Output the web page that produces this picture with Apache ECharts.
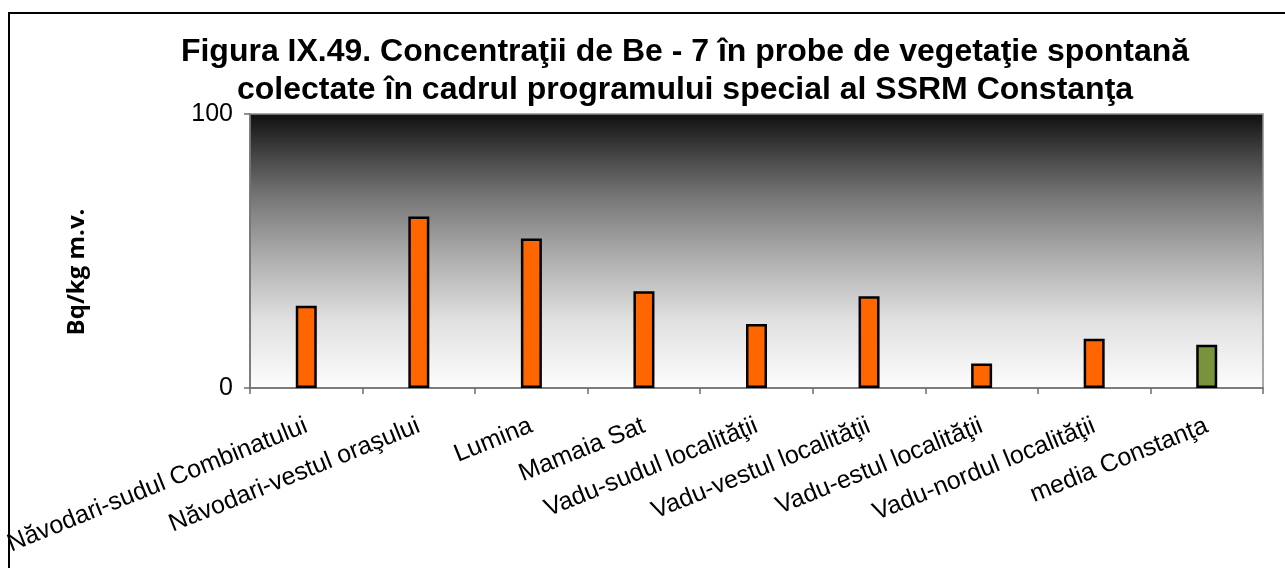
<!DOCTYPE html>
<html>
<head>
<meta charset="utf-8">
<script src="https://cdn.jsdelivr.net/npm/echarts@6/dist/echarts.min.js"></script>
<style>
  html, body { margin: 0; padding: 0; background: #ffffff; }
  #chart { width: 1285px; height: 568px; }
</style>
</head>
<body>
<div id="chart"></div>
<script>
// Sampling sites
const categories = [
  'Năvodari-sudul Combinatului',
  'Năvodari-vestul oraşului',
  'Lumina',
  'Mamaia Sat',
  'Vadu-sudul localităţii',
  'Vadu-vestul localităţii',
  'Vadu-estul localităţii',
  'Vadu-nordul localităţii',
  'media Constanţa'
];
// Be-7 concentration, Bq/kg m.v.
const values = [30, 62.6, 54.6, 35.3, 23.4, 33.5, 8.9, 18.0, 15.8];
// The last category is the county average and is drawn in green
const averageIndex = 8;
const yTicks = [0, 100];

const titleLines = [
  'Figura IX.49. Concentraţii de Be - 7 în probe de vegetaţie spontană',
  'colectate în cadrul programului special al SSRM Constanţa'
];
const yAxisTitle = 'Bq/kg m.v.';

const chart = echarts.init(document.getElementById('chart'), null, { renderer: 'canvas' });

const barData = values.map((v, i) => ({
  value: v,
  itemStyle: { color: i === averageIndex ? '#77933C' : '#FF6600' }
}));

chart.setOption({
  animation: false,
  backgroundColor: '#ffffff',
  title: {
    text: titleLines.join('\n'),
    left: 680,
    textAlign: 'center',
    top: 28,
    textStyle: {
      fontFamily: 'Liberation Sans, Arial, sans-serif',
      fontWeight: 'bold',
      fontSize: 32,
      lineHeight: 38,
      color: '#000000'
    }
  },
  graphic: [
    {
      type: 'rect',
      shape: { x: 9, y: 13, width: 1400, height: 700 },
      style: { fill: 'none', stroke: '#000000', lineWidth: 2 },
      silent: true,
      z: 100
    },
    {
      type: 'text',
      x: 77,
      y: 272,
      rotation: Math.PI / 2,
      style: {
        text: yAxisTitle,
        fontFamily: 'Open Sans, Liberation Sans, sans-serif',
        fontWeight: 'bold',
        fontSize: 24,
        fill: '#000000',
        align: 'center',
        verticalAlign: 'middle'
      }
    }
  ],
  grid: {
    left: 250,
    right: 22,
    top: 114,
    bottom: 180,
    show: true,
    borderColor: '#8c8c8c',
    borderWidth: 1.5,
    backgroundColor: {
      type: 'linear', x: 0, y: 0, x2: 0, y2: 1,
      colorStops: [
        { offset: 0, color: '#0f0f0f' },
        { offset: 0.15, color: '#444444' },
        { offset: 0.3, color: '#757575' },
        { offset: 0.5, color: '#a8a8a8' },
        { offset: 0.75, color: '#e0e0e0' },
        { offset: 1, color: '#fdfdfd' }
      ]
    }
  },
  xAxis: {
    type: 'category',
    data: categories,
    boundaryGap: true,
    axisLine: { show: true, lineStyle: { color: '#6e6e6e', width: 1.5 } },
    axisTick: { show: true, alignWithLabel: false, length: 6, lineStyle: { color: '#6e6e6e', width: 1.5 } },
    axisLabel: {
      rotate: 22,
      interval: 0,
      margin: 37,
      fontFamily: 'Liberation Sans, Arial, sans-serif',
      fontSize: 25,
      color: '#000000'
    },
    splitLine: { show: false }
  },
  yAxis: {
    type: 'value',
    min: yTicks[0],
    max: yTicks[yTicks.length - 1],
    interval: yTicks[1] - yTicks[0],
    axisLine: { show: true, lineStyle: { color: '#6e6e6e', width: 1.5 } },
    axisTick: { show: true, length: 6, lineStyle: { color: '#6e6e6e', width: 1.5 } },
    axisLabel: {
      margin: 17,
      fontFamily: 'Liberation Sans, Arial, sans-serif',
      fontSize: 25,
      color: '#000000'
    },
    splitLine: { show: false }
  },
  series: [
    {
      type: 'bar',
      data: barData,
      barWidth: 21,
      itemStyle: { borderColor: '#000000', borderWidth: 2.5 }
    }
  ]
});
</script>
</body>
</html>
